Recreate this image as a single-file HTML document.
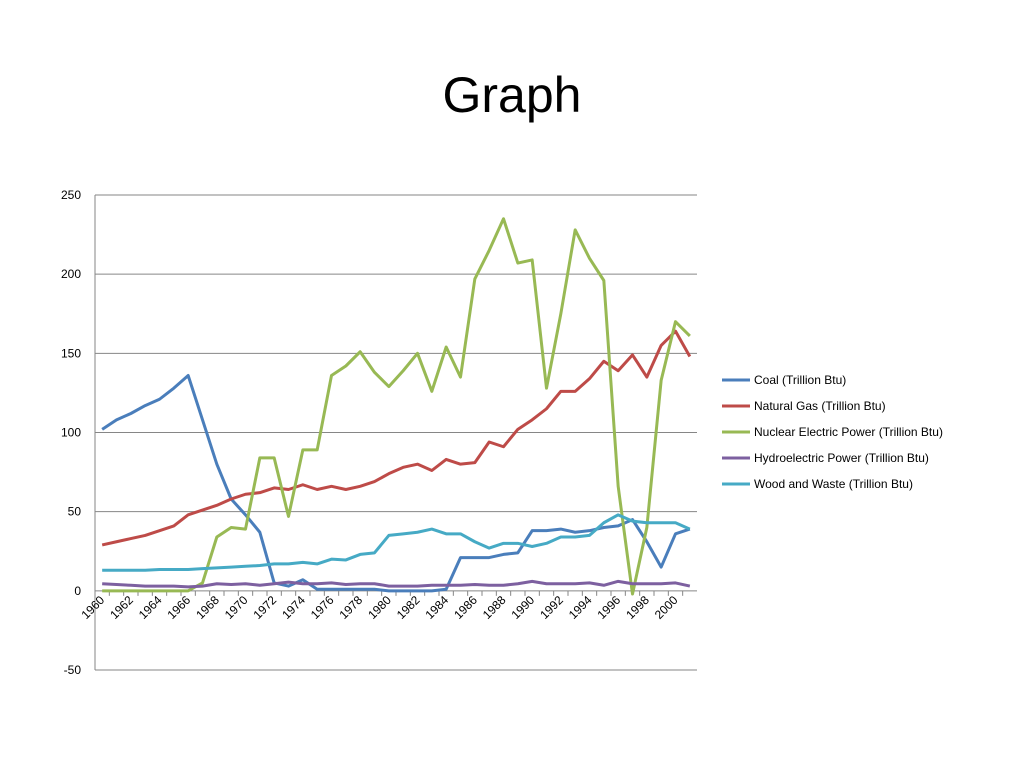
<!DOCTYPE html>
<html><head><meta charset="utf-8"><style>
body{margin:0;background:#fff;width:1024px;height:768px;overflow:hidden;font-family:"Liberation Sans",Calibri,sans-serif}
#title{position:absolute;left:0;width:1024px;top:66px;text-align:center;font-size:50px;color:#000}
</style></head><body>
<div id="title">Graph</div>
<svg id="chart" width="1024" height="768" style="position:absolute;left:0;top:0"></svg>
<script>
const years=[];for(let y=1960;y<=2001;y++)years.push(y);
const seriesNames=["Coal (Trillion Btu)","Natural Gas (Trillion Btu)","Nuclear Electric Power (Trillion Btu)","Hydroelectric Power (Trillion Btu)","Wood and Waste (Trillion Btu)"];
const colors=["#4a7ebb","#be4b48","#98b954","#7d60a0","#46aac5"];
const coal=[102,108,112,117,121,128,136,108,80,58,48,37,5,3,7,1,1,1,1,1,0,0,0,0,1,21,21,21,23,24,38,38,39,37,38,40,41,45,31,15,36,39];
const gas=[29,31,33,35,38,41,48,51,54,58,61,62,65,64,67,64,66,64,66,69,74,78,80,76,83,80,81,94,91,102,108,115,126,126,134,145,139,149,135,155,164,148];
const nuclear=[0,0,0,0,0,0,0,5,34,40,39,84,84,47,89,89,136,142,151,138,129,139,150,126,154,135,197,215,235,207,209,128,175,228,210,196,66,-2,40,133,170,161];
const hydro=[4.5,4,3.5,3,3,3,2.5,3,4.5,4,4.5,3.5,4.5,5.5,4.5,4.5,5,4,4.5,4.5,3,3,3,3.5,3.5,3.5,4,3.5,3.5,4.5,6,4.5,4.5,4.5,5,3.5,6,4.5,4.5,4.5,5,3];
const wood=[13,13,13,13,13.5,13.5,13.5,14,14.5,15,15.5,16,17,17,18,17,20,19.5,23,24,35,36,37,39,36,36,31,27,30,30,28,30,34,34,35,43,48,44,43,43,43,39];
const yTicks=[-50,0,50,100,150,200,250];
const xLabels=years.filter(y=>y%2===0);
const allSeries=[coal,gas,nuclear,hydro,wood];
const NS="http://www.w3.org/2000/svg";
const svg=document.getElementById("chart");
const X0=95,X1=697,Y0=195,Y1=670,ymin=-50,ymax=250;
const step=(X1-X0)/years.length;
const xS=i=>X0+step*(i+0.5);
const yS=v=>Y1-(v-ymin)/(ymax-ymin)*(Y1-Y0);
function mk(t,a,p){const e=document.createElementNS(NS,t);for(const k in a)e.setAttribute(k,a[k]);(p||svg).appendChild(e);return e;}
yTicks.forEach(v=>{
 const g=mk("line",{x1:X0,x2:X1,y1:yS(v),y2:yS(v),stroke:v===0?"#868686":"#868686","stroke-width":1});
 
 
 const t=mk("text",{x:X0-14,y:yS(v)+4,"text-anchor":"end","font-size":12,fill:"#000","font-family":"Liberation Sans, sans-serif"});
 t.textContent=v;
 
 
});
const ax=mk("line",{x1:X0,x2:X0,y1:Y0,y2:Y1,stroke:"#868686"});


years.forEach((y,i)=>{
 const tk=mk("line",{x1:X0+step*i,x2:X0+step*i,y1:yS(0),y2:yS(0)+5,stroke:"#868686"});
 
 
});
xLabels.forEach(y=>{
 const i=years.indexOf(y);const x=xS(i)+3,yy=yS(0)+10;
 const t=mk("text",{x:x,y:yy,"text-anchor":"end","font-size":12,fill:"#000","font-family":"Liberation Sans, sans-serif",transform:`rotate(-45 ${x} ${yy})`});
 t.textContent=y;
 
 
});
allSeries.forEach((s,k)=>{
 const p=mk("polyline",{points:s.map((v,i)=>xS(i)+","+yS(v)).join(" "),fill:"none",stroke:colors[k],"stroke-width":3,"stroke-linejoin":"round"});
 
 
 const ly=380+26*k;
 const l=mk("line",{x1:722,x2:750,y1:ly,y2:ly,stroke:colors[k],"stroke-width":3});
 
 
 const t=mk("text",{x:754,y:ly+4,"font-size":12,fill:"#000","font-family":"Liberation Sans, sans-serif"});
 t.textContent=seriesNames[k];
 
 
});
</script>
</body></html>
